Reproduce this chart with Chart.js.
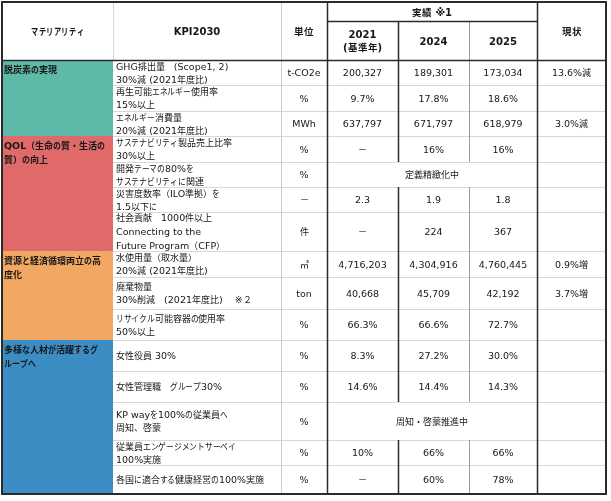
<!DOCTYPE html>
<html>
<head>
<meta charset="utf-8">
<script src="https://cdn.jsdelivr.net/npm/chart.js@4.4.1/dist/chart.umd.min.js"></script>
<style>
  @font-face { font-family: 'JPs'; font-weight: 400; size-adjust: 95%;
    src: local('Noto Sans CJK JP'), local('Noto Sans CJK JP Regular'), local('NotoSansCJKjp-Regular'); }
  @font-face { font-family: 'JPs'; font-weight: 700; size-adjust: 95%;
    src: local('Noto Sans CJK JP Bold'), local('NotoSansCJKjp-Bold'); }
  html, body { margin: 0; padding: 0; background: #fff; }
  canvas { display: block; }
</style>
</head>
<body>
<canvas id="myChart" width="611" height="501"></canvas>
<script>
// ---- data ----
const headMateriality = 'マテリアリティ';
const headKpi = 'KPI2030';
const headUnit = '単位';
const headResults = '実績 ※1';
const headYears = [['2021', '(基準年)'], ['2024'], ['2025']];
const headStatus = '現状';

const materialities = [
  ['脱炭素の実現'],
  ['QOL（生命の質・生活の', '質）の向上'],
  ['資源と経済循環両立の高', '度化'],
  ['多様な人材が活躍するグ', 'ループへ']
];
const groupRows = [3, 4, 3, 5];

const kpis = [
  ['GHG排出量　(Scope1, 2)', '30%減 (2021年度比)'],
  ['再生可能エネルギー使用率', '15%以上'],
  ['エネルギー消費量', '20%減 (2021年度比)'],
  ['サステナビリティ製品売上比率', '30%以上'],
  ['開発テーマの80%を', 'サステナビリティに関連'],
  ['災害度数率（ILO準拠）を', '1.5以下に'],
  ['社会貢献　1000件以上', 'Connecting to the', 'Future Program（CFP）'],
  ['水使用量（取水量）', '20%減 (2021年度比)'],
  ['廃棄物量', '30%削減　(2021年度比)　 ※２'],
  ['リサイクル可能容器の使用率', '50%以上'],
  ['女性役員 30%'],
  ['女性管理職　グループ30%'],
  ['KP wayを100%の従業員へ', '周知、啓蒙'],
  ['従業員エンゲージメントサーベイ', '100%実施'],
  ['各国に適合する健康経営の100%実施']
];
const units = ['t-CO2e', '%', 'MWh', '%', '%', '－', '件', '㎥', 'ton', '%', '%', '%', '%', '%', '%'];
const v2021 = ['200,327', '9.7%', '637,797', '－', null, '2.3', '－', '4,716,203', '40,668', '66.3%', '8.3%', '14.6%', null, '10%', '－'];
const v2024 = ['189,301', '17.8%', '671,797', '16%', null, '1.9', '224', '4,304,916', '45,709', '66.6%', '27.2%', '14.4%', null, '66%', '60%'];
const v2025 = ['173,034', '18.6%', '618,979', '16%', null, '1.8', '367', '4,760,445', '42,192', '72.7%', '30.0%', '14.3%', null, '66%', '78%'];
const statuses = ['13.6%減', '', '3.0%減', '', '', '', '', '0.9%増', '3.7%増', '', '', '', '', '', ''];
const mergedNotes = [null, null, null, null, '定義精緻化中', null, null, null, null, null, null, null, '周知・啓蒙推進中', null, null];

// ---- layout / style ----
const colWidths = [111, 168, 46, 71, 71, 68, 69];
const headRowHeights = [19, 39];
const rowHeights = [25, 26, 25, 26, 25, 25, 39, 26, 32, 31, 31, 31, 38, 25, 29];
const groupColors = ['#5fb9a8', '#e06a6a', '#f2a862', '#3b8dc4'];
const FAM = "'DejaVu Sans', JPs, 'Noto Sans CJK JP', sans-serif";
const textColor = '#161616';
const darkLine = '#2b2b2b';
const lightLine = '#d8d8d8';
const textDy = 1.5;

function cumsum(arr) {
  const out = [0];
  arr.forEach(function(v) { out.push(out[out.length - 1] + v); });
  return out;
}

const colEdges = cumsum(colWidths);
const headEdges = cumsum(headRowHeights);
const headH = headEdges[headEdges.length - 1];
const rowEdges = cumsum(rowHeights).map(function(v) { return v + headH; });
const tableW = colEdges[colEdges.length - 1];
const tableH = rowEdges[rowEdges.length - 1];

function isKana(ch) {
  const c = ch.charCodeAt(0);
  return c >= 0x3041 && c <= 0x30ff && c !== 0x30fb;
}

// kana are drawn a little condensed, like the UI font of the original
function drawRich(ctx, str, x, y, align, kanaScale) {
  const runs = [];
  for (const ch of str) {
    const k = isKana(ch);
    if (runs.length && runs[runs.length - 1].k === k) runs[runs.length - 1].s += ch;
    else runs.push({ s: ch, k: k });
  }
  let total = 0;
  runs.forEach(function(r) {
    r.w = ctx.measureText(r.s).width * (r.k ? kanaScale : 1);
    total += r.w;
  });
  let cx = align === 'center' ? x - total / 2 : x;
  ctx.textAlign = 'left';
  runs.forEach(function(r) {
    if (r.k) {
      ctx.save();
      ctx.translate(cx, y);
      ctx.scale(kanaScale, 1);
      ctx.fillText(r.s, 0, 0);
      ctx.restore();
    } else {
      ctx.fillText(r.s, cx, y);
    }
    cx += r.w;
  });
}

const tablePlugin = {
  id: 'kpiTable',
  afterDraw(chart) {
    const ctx = chart.ctx;
    const xs = chart.scales.x;
    const ys = chart.scales.y;
    const X = function(u) { return xs.getPixelForValue(u); };
    const Y = function(v) { return ys.getPixelForValue(v); };

    ctx.save();

    // fills
    ctx.fillStyle = '#fff';
    ctx.fillRect(X(0), Y(0), X(tableW) - X(0), Y(tableH) - Y(0));
    let r = 0;
    groupRows.forEach(function(n, g) {
      ctx.fillStyle = groupColors[g];
      ctx.fillRect(X(colEdges[0]), Y(rowEdges[r]), X(colEdges[1]) - X(colEdges[0]), Y(rowEdges[r + n]) - Y(rowEdges[r]));
      r += n;
    });

    function hLine(v, u0, u1, color, w) {
      const p = Math.round(Y(v)) + (w % 2 ? 0.5 : 0);
      ctx.strokeStyle = color; ctx.lineWidth = w;
      ctx.beginPath(); ctx.moveTo(X(u0), p); ctx.lineTo(X(u1), p); ctx.stroke();
    }
    function vLine(u, v0, v1, color, w) {
      const p = Math.round(X(u)) + (w % 2 ? 0.5 : 0);
      ctx.strokeStyle = color; ctx.lineWidth = w;
      ctx.beginPath(); ctx.moveTo(p, Y(v0)); ctx.lineTo(p, Y(v1)); ctx.stroke();
    }

    // light grid
    for (let i = 1; i < rowEdges.length - 1; i++) {
      hLine(rowEdges[i], colEdges[1], tableW, lightLine, 1);
    }
    vLine(colEdges[1], 0, headH, lightLine, 1);
    vLine(colEdges[2], 0, tableH, '#cccccc', 1);

    // column lines in the result block, broken at merged rows
    for (let i = 0; i < kpis.length; i++) {
      if (mergedNotes[i]) continue;
      vLine(colEdges[4], rowEdges[i], rowEdges[i + 1], darkLine, 1.5);
      vLine(colEdges[5], rowEdges[i], rowEdges[i + 1], '#9a9a9a', 1);
    }
    vLine(colEdges[4], headEdges[1], headH, darkLine, 1.5);
    vLine(colEdges[5], headEdges[1], headH, '#9a9a9a', 1);
    vLine(colEdges[3], 0, tableH, darkLine, 1.5);
    vLine(colEdges[6], 0, tableH, darkLine, 1.5);
    hLine(headEdges[1], colEdges[3], colEdges[6], darkLine, 1.5);
    hLine(headH, 0, tableW, darkLine, 1.5);

    // outer border
    ctx.strokeStyle = darkLine; ctx.lineWidth = 2;
    ctx.strokeRect(X(0), Y(0), X(tableW) - X(0), Y(tableH) - Y(0));

    // text
    ctx.fillStyle = textColor;
    ctx.textBaseline = 'middle';
    function lines(arr, u, v, align, font, lh, ks) {
      ctx.font = font;
      const top = Y(v) + textDy - (arr.length - 1) * lh / 2;
      arr.forEach(function(s, k) { drawRich(ctx, s, u, top + k * lh, align, ks); });
    }
    function midX(a, b) { return (X(colEdges[a]) + X(colEdges[b])) / 2; }
    function midY(a, b) { return (a + b) / 2; }

    const hb = 'bold 10px ' + FAM;
    lines([headMateriality], midX(0, 1), midY(0, headH), 'center', hb, 13, 0.76);
    lines([headKpi], midX(1, 2), midY(0, headH), 'center', hb, 13, 0.8);
    lines([headUnit], midX(2, 3), midY(0, headH), 'center', hb, 13, 0.8);
    lines([headResults], midX(3, 6), midY(0, headEdges[1]), 'center', hb, 13, 0.8);
    headYears.forEach(function(t, k) {
      lines(t, midX(3 + k, 4 + k), midY(headEdges[1], headH), 'center', hb, 13.5, 0.8);
    });
    lines([headStatus], midX(6, 7), midY(0, headH), 'center', hb, 13, 0.8);

    r = 0;
    materialities.forEach(function(t, g) {
      ctx.font = 'bold 9.5px ' + FAM;
      t.forEach(function(s, k) {
        drawRich(ctx, s, X(colEdges[0]) + 2, Y(rowEdges[r]) + 11 + k * 14, 'left', 0.88);
      });
      r += groupRows[g];
    });

    const fk = '9.5px ' + FAM;
    const fv = '9.5px ' + FAM;
    for (let i = 0; i < kpis.length; i++) {
      const cy = midY(rowEdges[i], rowEdges[i + 1]);
      lines(kpis[i], X(colEdges[1]) + 3, cy, 'left', fk, kpis[i].length > 2 ? 14 : 13, 0.86);
      lines([units[i]], midX(2, 3), cy, 'center', fv, 13, 0.86);
      if (mergedNotes[i]) {
        lines([mergedNotes[i]], midX(3, 6), cy, 'center', fk, 13, 0.86);
      } else {
        [v2021, v2024, v2025].forEach(function(arr, k) {
          lines([arr[i]], midX(3 + k, 4 + k), cy, 'center', fv, 13, 0.86);
        });
      }
      if (statuses[i]) lines([statuses[i]], midX(6, 7), cy, 'center', fv, 13, 0.86);
    }
    ctx.restore();
  }
};

function makeChart() {
  const ctx = document.querySelector('#myChart').getContext('2d');
  // eslint-disable-next-line no-undef
  new Chart(ctx, {
    type: 'scatter',
    data: { datasets: [{ data: [] }] },
    options: {
      responsive: false,
      animation: false,
      layout: { padding: { left: 2, top: 2, right: 611 - 2 - tableW, bottom: 501 - 2 - tableH } },
      plugins: { legend: { display: false }, tooltip: { enabled: false } },
      scales: {
        x: { type: 'linear', min: 0, max: tableW, display: false },
        y: { type: 'linear', min: 0, max: tableH, reverse: true, display: false }
      }
    },
    plugins: [tablePlugin]
  });
}

Promise.all([
  document.fonts.load("9px JPs", "あ"),
  document.fonts.load("bold 9px JPs", "あ")
]).catch(function() {}).then(makeChart);
</script>
</body>
</html>
